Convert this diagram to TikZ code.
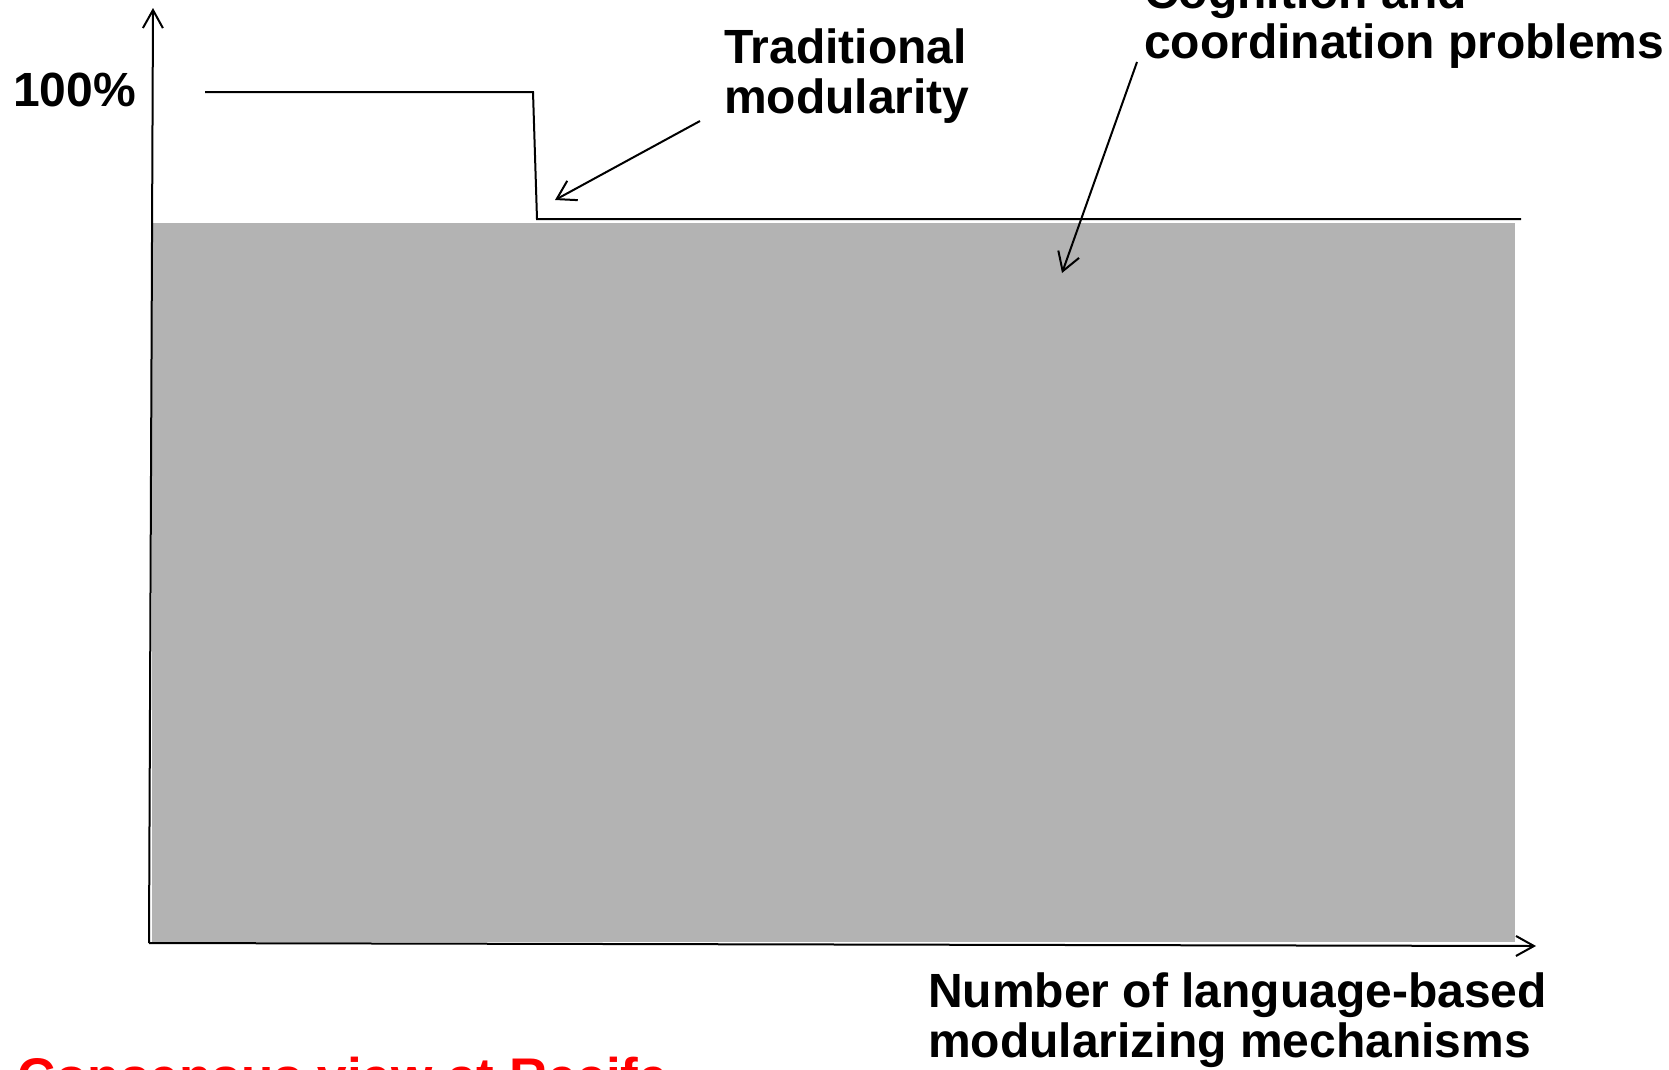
\documentclass[tikz,border=0pt]{standalone}
\usepackage{fontspec}
\setmainfont{Liberation Sans}
\usetikzlibrary{arrows.meta}
\definecolor{areagray}{RGB}{179,179,179}
\definecolor{notered}{RGB}{255,0,0}
\begin{document}
\begin{tikzpicture}[x=1pt,y=-1pt,
  lbl/.style={font=\bfseries\fontsize{48}{50}\selectfont, inner sep=0pt, align=left},
  axisline/.style={line width=2pt, -{Straight Barb[length=18pt,width=20pt]}},
  pointer/.style={line width=2pt, -{Straight Barb[length=18pt,width=22pt]}},
  level/.style={line width=2pt, line join=miter}]
\useasboundingbox (0,0) rectangle (1669,1069);
\clip (0,0) rectangle (1669,1069);

% shaded region under the curve
\fill[areagray] (152,223) rectangle (1515,942);

% axes
\coordinate (origin) at (149,943);
\coordinate (ytip) at (153,8);
\coordinate (xtip) at (1536,946);
\draw[axisline] (origin) -- (ytip);
\draw[axisline] (origin) -- (xtip);

% step curve
\draw[level] (205,92) -- (533,92) -- (537,219) -- (1521,219);

% labels (base anchor of a two-line node sits on its last line)
\node[lbl, anchor=base west] (pct) at (13,106) {100\%};
\node[lbl, anchor=base west] (trad) at (724,113) {Traditional\\modularity};
\node[lbl, anchor=base west] (cogn) at (1144,58) {Cognition and\\coordination problems};
\node[lbl, anchor=base west] (xlabel) at (928,1057) {Number of language-based\\modularizing mechanisms};
\node[font=\bfseries\fontsize{53}{58}\selectfont, inner sep=0pt, text=notered, anchor=base west] (recife) at (17,1095) {Consensus view at Recife};

% pointers from labels into the chart
\coordinate (tradfrom) at (700,121);
\coordinate (tradto) at (555,200);
\coordinate (cognfrom) at (1137,62);
\coordinate (cognto) at (1062,273);
\draw[pointer] (tradfrom) -- (tradto);
\draw[pointer] (cognfrom) -- (cognto);
\end{tikzpicture}
\end{document}
